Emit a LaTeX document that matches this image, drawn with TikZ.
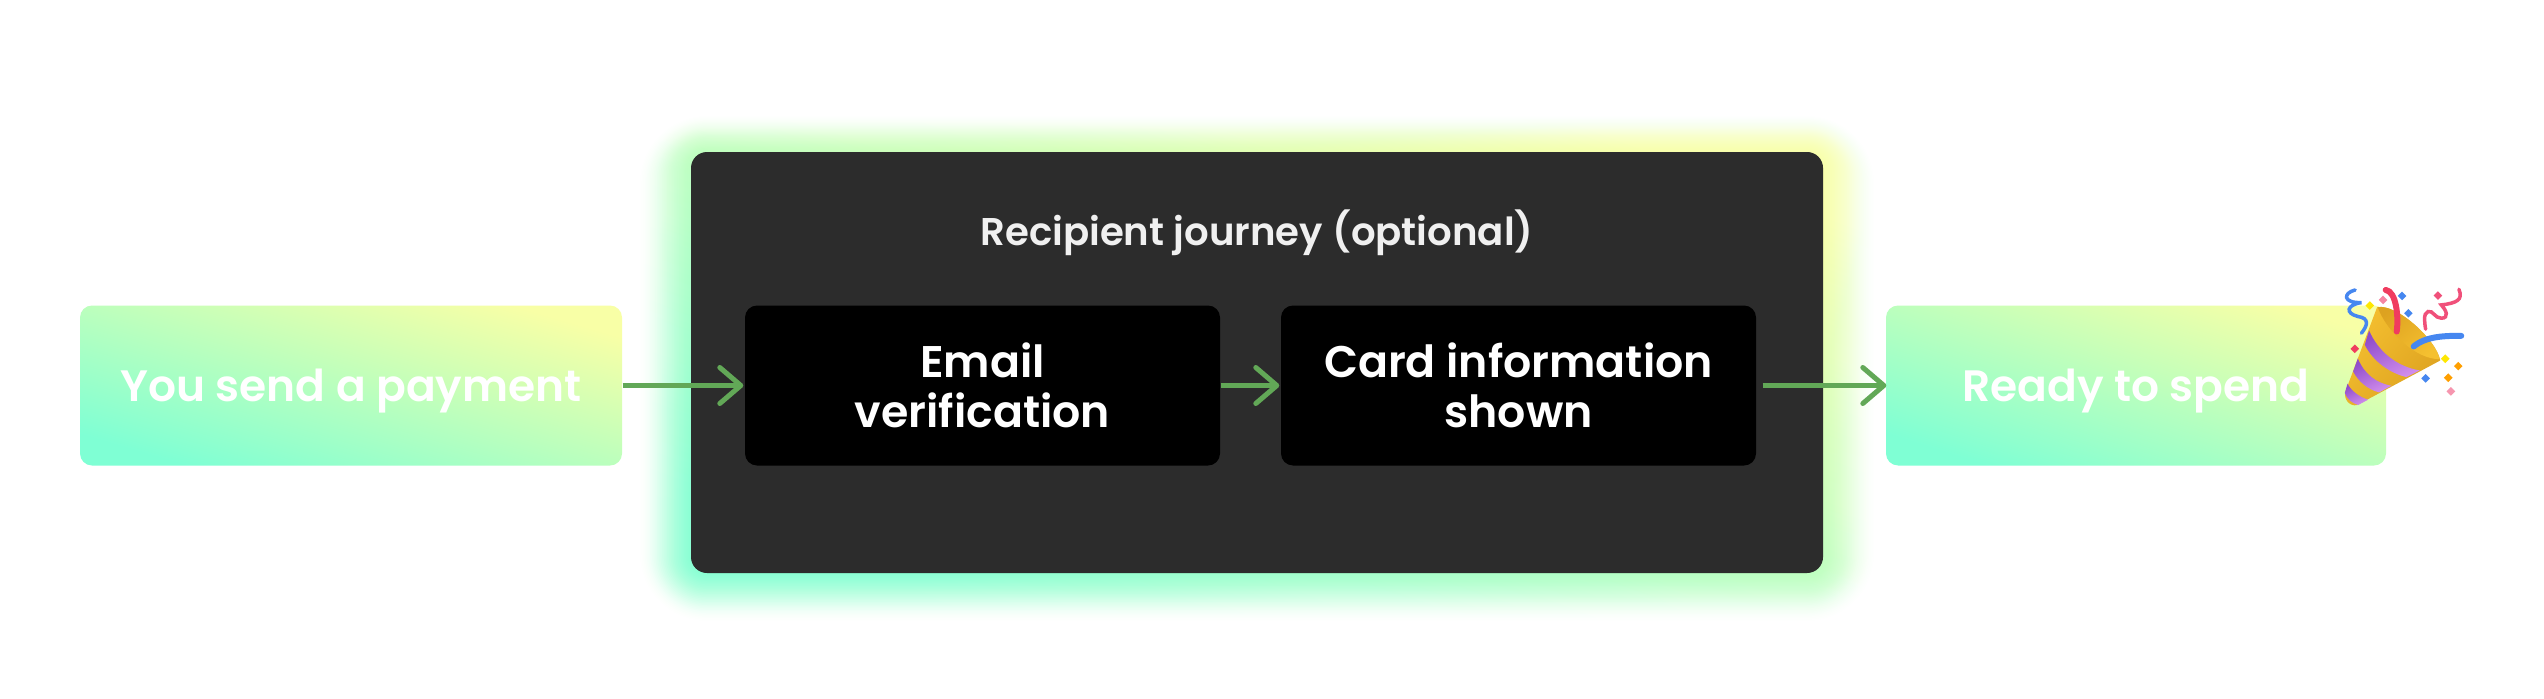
\documentclass[tikz,border=0pt]{standalone}
\usepackage{fontspec}
\setmainfont{Poppins}[BoldFont={Poppins SemiBold}]
\usetikzlibrary{arrows.meta, calc}
\definecolor{glowMint}{HTML}{7FFFD4}
\definecolor{glowLime}{HTML}{F8FFA6}
\definecolor{panelGrey}{HTML}{2C2C2C}
\definecolor{flowGreen}{HTML}{62A857}
\definecolor{popRed}{HTML}{F03C5F}
\definecolor{popBlue}{HTML}{4687F0}
\definecolor{popPink}{HTML}{F0507A}
\definecolor{popPurple}{HTML}{8F4CCB}
\definecolor{popLilac}{HTML}{CF8CEB}
\definecolor{popGold}{HTML}{F5C030}
\definecolor{popDeep}{HTML}{DDA220}
\definecolor{popLight}{HTML}{FFE74E}
\tikzset{
  minty/.style={bottom color=glowMint, top color=glowLime, shading angle=-#1},
  gradbox/.style={rounded corners=0.12cm, inner sep=0pt, minimum height=1.6cm, text height=0.36cm, text depth=0.05cm, text=white, font=\fontsize{12.5}{14}\selectfont\bfseries},
  stepbox/.style={fill=black, rounded corners=0.12cm, inner sep=0pt, minimum width=4.75cm, minimum height=1.6cm, align=center, text=white, font=\fontsize{12.6}{14.2}\selectfont\bfseries},
  stripe/.style={left color=popPurple, right color=popLilac, shading angle=25},
  flow/.style={->, draw=flowGreen, line width=0.05cm, shorten >=0.01cm}
}
\begin{document}
\begin{tikzpicture}[>={Straight Barb[length=2.1mm, width=3.6mm, round]}]
  \useasboundingbox (0,0) rectangle (25.44,6.98);
  \fill[white] (0,0) rectangle (25.44,6.98);
  % glow behind the panel
  \foreach \g in {30,29,...,0}
    \path[minty=20.4, opacity={0.003+0.0042*(30-\g)}, rounded corners={(0.16+0.017*\g)*1cm}] (6.91-0.017*\g,1.25-0.016*\g) rectangle (18.23+0.017*\g,5.46+0.012*\g);
  \node[fill=panelGrey, rounded corners=0.16cm, inner sep=0pt, minimum width=11.32cm, minimum height=4.21cm] (panel) at (12.57,3.355) {};
  \node[text=white!94!black, font=\fontsize{11}{12}\selectfont\bfseries] (journey) at (12.57,4.65) {Recipient journey (optional)};
  \node[gradbox, minty=16.4, minimum width=5.42cm] (send) at (3.51,3.125) {You send a payment};
  \node[stepbox] (email) at (9.825,3.125) {Email\\verification};
  \node[stepbox] (card) at (15.185,3.125) {Card information\\shown};
  \node[gradbox, minty=17.8, minimum width=5.0cm] (ready) at (21.36,3.125) {Ready to spend};
  \draw[flow] (send.east) -- (email.west);
  \draw[flow] (email.east) -- (card.west);
  \draw[flow] ($(card.east)+(0.06,0)$) -- ($(ready.west)+(0.02,0)$);
  % party popper
  \begin{scope}[shift={(22.50,4.38)}, x=0.00333cm, y=-0.00333cm, line cap=round]
    \path[left color=popGold, middle color=popLight, right color=popDeep, shading angle=50]
      (382,142) -- (287,395) .. controls (280,418) and (300,442) .. (322,436) -- (572,302)
      .. controls (560,240) and (440,130) .. (382,142) -- cycle;
    \path[left color=popDeep, right color=popGold, shading angle=40] (384,142) .. controls (410,215) and (500,300) .. (570,298)
      .. controls (560,240) and (440,130) .. (384,142) -- cycle;
    % stripes
    \path[stripe] (358,212) .. controls (385,275) and (440,320) .. (510,332) -- (470,352) .. controls (420,340) and (370,305) .. (345,255) -- cycle;
    \path[stripe] (324,296) .. controls (345,345) and (380,370) .. (425,378) -- (388,398) .. controls (355,390) and (325,365) .. (310,335) -- cycle;
    \path[stripe] (293,372) .. controls (305,395) and (330,412) .. (355,420) -- (325,436) .. controls (305,430) and (292,418) .. (285,400) -- cycle;
    % streamers
    \draw[line width=0.06cm, popRed] (408,90) .. controls (440,95) and (447,170) .. (441,215);
    \draw[line width=0.06cm, popBlue] (492,260) .. controls (530,228) and (590,228) .. (635,228);
    \draw[line width=0.035cm, popBlue] (316,90) .. controls (278,100) and (280,130) .. (335,128) .. controls (290,135) and (285,160) .. (325,170) .. controls (358,175) and (355,195) .. (335,220);
    \draw[line width=0.035cm, popPink] (628,88) .. controls (642,120) and (620,130) .. (575,135) .. controls (590,150) and (600,175) .. (575,175) .. controls (555,175) and (550,150) .. (535,155) .. controls (520,160) and (525,190) .. (528,208);
    % confetti
    \foreach \cx/\cy/\cc in {360/137/yellow!90!orange, 400/120/popPink!70!white, 457/108/popBlue, 476/160/popBlue, 565/107/popPink, 315/267/popRed, 587/297/yellow!90!orange, 626/319/orange!75!yellow, 596/354/orange!75!yellow, 528/356/popBlue, 604/395/popPink!60!white}
      \fill[\cc] (\cx-13,\cy) -- (\cx,\cy-13) -- (\cx+13,\cy) -- (\cx,\cy+13) -- cycle;
  \end{scope}
\end{tikzpicture}
\end{document}
